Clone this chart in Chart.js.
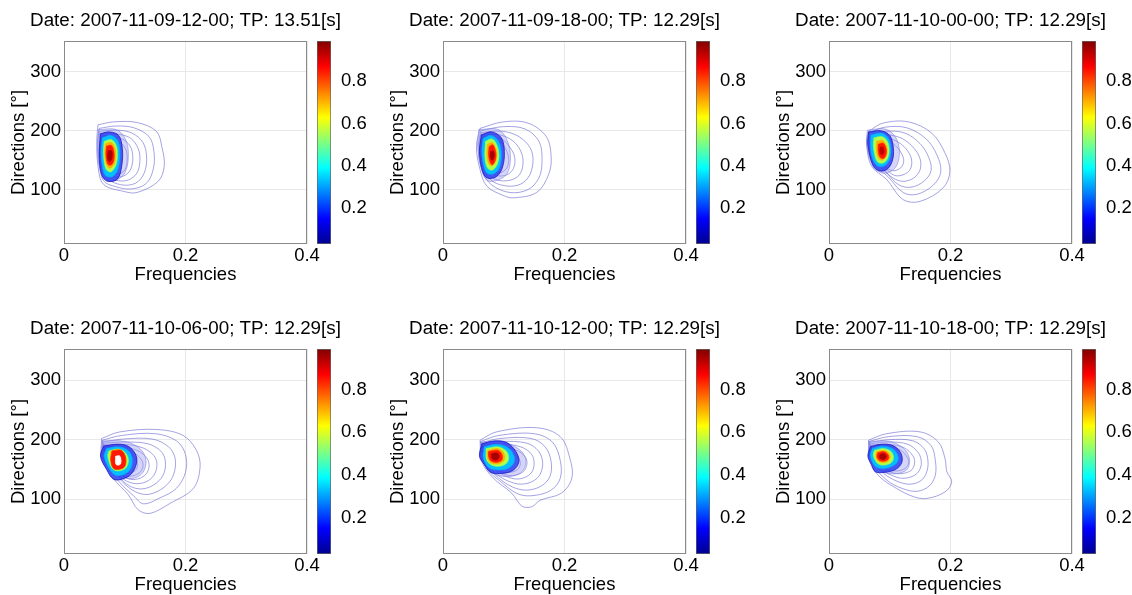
<!DOCTYPE html>
<html>
<head>
<meta charset="utf-8">
<script src="https://cdn.jsdelivr.net/npm/chart.js@4.4.1/dist/chart.umd.min.js"></script>
<style>
  body { margin: 0; background: #fff; overflow: hidden; }
  canvas { position: absolute; }
</style>
</head>
<body>
<script>
// panel headers
const dates = ['2007-11-09-12-00', '2007-11-09-18-00', '2007-11-10-00-00',
               '2007-11-10-06-00', '2007-11-10-12-00', '2007-11-10-18-00'];
const peakPeriods = [13.51, 12.29, 12.29, 12.29, 12.29, 12.29];

const freqTicks = [0, 0.2, 0.4];
const dirTicks = [100, 200, 300];
const colourTicks = [0.2, 0.4, 0.6, 0.8];
const colourRange = [0.03, 0.99];

// contour rings: [freq, dir, freq, dir, ...]
// lines = low level contours (outer first), core = higher levels (halo first, peak last)
const linesA = [
  [.056,210, .081,215, .120,214, .152,199, .161,173, .165,140, .155,114, .120,95, .098,97, .065,109, .056,140, .054,185],
  [.058,204, .085,208, .115,205, .140,190, .148,165, .147,135, .135,110, .110,101, .085,105, .065,115, .058,145, .056,185],
  [.059,199, .088,201, .112,196, .130,180, .136,155, .132,128, .118,111, .095,108, .070,120, .060,150, .058,185],
  [.060,195, .090,194, .110,187, .122,170, .125,150, .120,128, .105,116, .085,116, .068,126, .060,155],
  [.061,192, .090,188, .106,178, .113,160, .110,135, .098,123, .080,122, .066,132, .061,160],
  [.062,190, .088,183, .101,170, .104,152, .100,133, .088,126, .072,128, .063,145]
];
const coreA = [
  [.057,202, .086,202, .101,186, .106,160, .101,130, .086,116, .068,116, .058,140, .055,175],
  [.060,195, .075,198, .090,192, .096,170, .095,140, .088,118, .072,114, .062,125, .058,160],
  [.063,188, .078,192, .089,182, .092,160, .089,135, .080,122, .068,124, .063,140, .061,165],
  [.066,182, .078,185, .086,175, .088,158, .085,140, .077,130, .069,135, .065,160],
  [.068,178, .078,180, .084,170, .085,155, .082,142, .075,136, .070,142, .067,160],
  [.070,174, .078,175, .082,165, .082,150, .078,142, .073,142, .070,150, .069,162],
  [.073,166, .078,166, .079,156, .076,148, .073,150, .072,158]
];

const linesB = [
  [.061,204, .099,215, .140,213, .170,190, .178,156, .174,126, .154,95, .116,86, .099,90, .072,106, .061,134, .055,173],
  [.062,200, .100,207, .135,203, .158,182, .163,150, .158,120, .140,100, .110,95, .080,108, .065,130, .058,170],
  [.063,197, .098,199, .125,190, .144,170, .148,145, .140,120, .122,107, .095,108, .075,120, .063,150, .060,180],
  [.064,194, .097,192, .118,180, .130,160, .131,138, .123,122, .105,115, .085,118, .068,135, .062,170],
  [.065,192, .096,186, .110,172, .118,155, .116,136, .105,125, .088,124, .072,135, .064,165],
  [.066,190, .094,181, .105,165, .108,148, .103,134, .090,128, .075,136, .066,160]
];
const coreB = [
  [.059,202, .091,202, .106,183, .111,155, .106,128, .090,116, .072,116, .062,140, .057,175],
  [.063,193, .080,198, .096,188, .101,165, .098,138, .088,122, .072,120, .064,135, .060,165],
  [.066,187, .080,192, .092,181, .096,160, .093,138, .084,127, .072,128, .066,145, .064,168],
  [.070,182, .081,186, .089,175, .092,158, .089,142, .081,133, .073,137, .069,155],
  [.073,177, .081,180, .087,170, .089,158, .086,146, .080,140, .075,144, .072,160],
  [.076,173, .082,176, .087,162, .086,150, .081,142, .077,148, .075,160],
  [.079,165, .083,165, .084,156, .081,150, .078,156]
];

const linesC = [
  [.065,199, .089,213, .131,215, .169,196, .191,162, .199,131, .188,103, .150,80, .122,83, .095,117, .070,140, .062,179],
  [.065,196, .092,206, .128,205, .160,186, .178,158, .184,130, .172,108, .145,92, .122,95, .097,122, .073,145, .064,180],
  [.066,193, .093,199, .125,196, .150,178, .164,155, .168,132, .156,114, .135,104, .115,108, .095,128, .075,150, .065,180],
  [.067,190, .094,193, .120,187, .140,170, .150,152, .150,134, .140,120, .122,114, .105,120, .090,135, .068,172],
  [.068,188, .094,188, .115,180, .130,165, .136,150, .134,135, .124,126, .108,124, .092,138, .070,170],
  [.069,187, .094,184, .110,174, .120,160, .123,148, .118,137, .105,132, .092,140, .072,168]
];
const coreC = [
  [.063,201, .092,203, .109,190, .116,165, .111,140, .098,129, .085,129, .072,140, .062,175],
  [.065,198, .085,200, .100,192, .106,170, .104,148, .095,134, .082,132, .072,142, .064,175],
  [.069,193, .086,196, .098,187, .102,168, .099,150, .091,140, .080,140, .072,152, .068,175],
  [.074,188, .087,190, .096,182, .099,166, .096,152, .089,145, .080,147, .075,160, .073,178],
  [.078,182, .088,184, .094,176, .096,164, .093,154, .087,150, .081,154, .078,168],
  [.081,177, .089,179, .094,170, .094,160, .090,153, .084,155, .081,165],
  [.085,172, .089,172, .090,163, .087,159, .084,165]
];

const linesD = [
  [.062,202, .092,213, .153,217, .196,207, .218,182, .224,154, .213,118, .175,93, .142,76, .122,82, .106,107, .081,135, .062,168],
  [.063,199, .095,207, .150,210, .185,198, .200,175, .200,145, .185,118, .158,102, .131,92, .115,105, .090,130, .065,165],
  [.064,196, .098,201, .145,201, .172,188, .183,168, .180,140, .165,120, .140,108, .118,112, .095,130, .067,165],
  [.065,194, .100,196, .138,193, .160,180, .167,162, .163,140, .148,124, .128,117, .108,122, .090,138, .068,167],
  [.066,192, .100,192, .130,186, .148,173, .153,158, .148,140, .135,129, .117,126, .100,132, .085,145, .069,168],
  [.067,190, .100,188, .124,180, .137,168, .140,155, .135,142, .122,134, .106,134, .090,145, .070,170],
  [.068,189, .100,185, .118,176, .128,165, .130,155, .125,145, .113,139, .098,139, .085,148, .071,170],
  [.069,188, .100,183, .113,174, .120,163, .121,155, .116,147, .105,143, .092,146, .073,170]
];
const coreD = [
  [.063,198, .100,197, .125,185, .135,165, .130,145, .115,135, .095,137, .080,145, .063,172],
  [.065,189, .085,192, .103,190, .115,180, .120,165, .113,145, .100,135, .082,133, .070,150, .060,172],
  [.070,185, .088,188, .104,183, .112,170, .110,152, .100,142, .085,140, .074,152, .066,172],
  [.074,181, .090,184, .101,178, .106,166, .103,154, .094,148, .082,149, .075,160, .072,174],
  [.077,181, .091,183, .099,175, .102,165, .099,155, .091,151, .082,153, .077,165],
  [.079,181, .094,182, .101,172, .101,157, .095,151, .082,151, .077,165],
  [.085,172, .092,172, .093,159, .086,158]
];

const linesE = [
  [.061,199, .088,213, .154,220, .193,205, .209,168, .212,135, .195,110, .160,98, .146,87, .130,88, .113,110, .083,135, .064,163],
  [.062,197, .092,207, .150,210, .180,196, .193,165, .193,135, .178,115, .150,106, .125,108, .100,125, .070,155],
  [.063,195, .095,202, .145,202, .168,188, .178,163, .176,138, .162,122, .138,115, .115,120, .092,135, .068,162],
  [.064,193, .097,197, .138,194, .157,181, .164,162, .160,142, .148,130, .128,125, .108,130, .088,142, .068,165],
  [.065,191, .098,193, .130,187, .146,175, .150,160, .146,145, .134,136, .118,134, .100,140, .085,150, .068,168],
  [.066,189, .098,189, .123,181, .136,170, .138,158, .133,147, .122,141, .107,140, .092,148, .070,170],
  [.067,188, .098,186, .116,177, .126,166, .127,157, .122,149, .111,145, .098,146, .072,170]
];
const coreE = [
  [.062,196, .098,196, .125,184, .136,168, .133,150, .120,140, .100,138, .080,145, .063,168],
  [.064,193, .085,198, .105,195, .120,180, .125,163, .115,148, .095,143, .078,145, .068,158, .060,172],
  [.068,188, .088,192, .106,187, .116,175, .117,162, .108,152, .090,149, .075,153, .066,170],
  [.071,185, .090,188, .103,182, .108,172, .106,162, .097,156, .083,156, .072,165],
  [.073,182, .090,185, .099,179, .102,170, .099,163, .090,159, .078,161, .073,170],
  [.075,180, .090,182, .097,175, .097,166, .090,162, .079,164, .075,172],
  [.080,176, .090,177, .092,170, .088,166, .081,168]
];

const linesF = [
  [.065,199, .095,210, .150,213, .180,196, .191,168, .194,146, .202,129, .191,112, .161,101, .139,104, .111,118, .084,137, .067,163],
  [.066,197, .098,205, .145,205, .168,190, .175,165, .175,140, .165,122, .145,113, .120,118, .095,132, .070,162],
  [.067,195, .100,200, .138,198, .157,184, .163,163, .160,143, .150,130, .132,125, .112,130, .090,143, .071,165],
  [.068,193, .100,196, .130,192, .147,178, .152,162, .148,147, .137,138, .120,135, .103,140, .086,150, .072,167],
  [.069,191, .100,192, .124,186, .138,173, .141,162, .137,150, .126,144, .111,143, .096,148, .074,168],
  [.070,190, .100,189, .118,182, .129,170, .131,161, .127,153, .117,148, .104,148, .090,154, .075,170]
];
const coreF = [
  [.066,197, .100,197, .122,186, .132,170, .130,152, .118,144, .098,143, .082,150, .067,170],
  [.068,188, .085,192, .105,190, .118,178, .120,162, .110,150, .092,145, .076,146, .070,158, .064,172],
  [.071,185, .087,189, .104,185, .113,174, .113,163, .104,155, .088,151, .076,155, .068,172],
  [.075,182, .089,185, .101,181, .106,172, .104,163, .096,158, .083,158, .075,167, .073,176],
  [.078,180, .090,182, .098,178, .101,171, .098,164, .090,161, .081,163, .077,172],
  [.080,178, .090,180, .097,175, .098,168, .092,164, .083,165, .079,171],
  [.084,175, .091,176, .094,171, .090,167, .084,169]
];

const panelLines = [linesA, linesB, linesC, linesD, linesE, linesF];
const panelCores = [coreA, coreB, coreC, coreD, coreE, coreF];

// ---- styling / layout ----
const FONT = "'Liberation Sans', Arial, sans-serif";
const lineColour = 'rgba(90,90,205,0.55)';
const coreColours = ['rgba(155,155,240,0.42)', 'rgba(35,55,240,0.8)', 'rgba(0,200,255,0.92)',
                     '#b0ff4c', '#ffae00', '#ff1800', '#a80000'];
const coreBorders = ['rgba(120,120,220,0.5)', 'rgba(20,20,190,0.75)', 'rgba(0,170,255,0.6)',
                     'rgba(150,255,80,0.6)', 'rgba(255,180,0,0.6)', 'rgba(255,40,0,0.7)', 'rgba(170,0,0,0.7)'];
const peakColours = ['#a80000', '#a80000', '#c00000', '#ffffff', '#a80000', '#a80000'];
const colLeft = [64, 443, 829];
const rowTop = [41, 349];
const rowHeight = [203, 205];
const PLOT_W = 243;

function ring(flat) {
  const pts = [];
  for (let i = 0; i < flat.length; i += 2) pts.push({x: flat[i], y: flat[i + 1]});
  pts.push({x: flat[0], y: flat[1]});
  return pts;
}

function jet(ctx, bottom, top) {
  const g = ctx.createLinearGradient(0, bottom, 0, top);
  g.addColorStop(0, '#00008f');
  g.addColorStop(0.125, '#0000ff');
  g.addColorStop(0.375, '#00ffff');
  g.addColorStop(0.625, '#ffff00');
  g.addColorStop(0.875, '#ff0000');
  g.addColorStop(1, '#800000');
  return g;
}

const boxPlugin = {
  id: 'box',
  afterDatasetsDraw(chart) {
    const {ctx, chartArea: a} = chart;
    ctx.save();
    ctx.strokeStyle = '#8a8a8a';
    ctx.lineWidth = 1;
    ctx.strokeRect(Math.round(a.left) + 0.5, Math.round(a.top) + 0.5,
                   Math.round(a.right - a.left) - 1, Math.round(a.bottom - a.top) - 1);
    ctx.restore();
  }
};

const titlePlugin = {
  id: 'panelTitle',
  afterDraw(chart, args, opts) {
    const {ctx, chartArea: a} = chart;
    ctx.save();
    ctx.font = '18.8px ' + FONT;
    ctx.fillStyle = '#000';
    ctx.textAlign = 'center';
    ctx.textBaseline = 'alphabetic';
    ctx.fillText(opts.text, (a.left + a.right) / 2, a.top - 15);
    ctx.restore();
  }
};

function addCanvas(left, top, w, h) {
  const c = document.createElement('canvas');
  c.width = w; c.height = h;
  c.style.left = left + 'px'; c.style.top = top + 'px';
  c.style.width = w + 'px'; c.style.height = h + 'px';
  document.body.appendChild(c);
  return c;
}

for (let p = 0; p < 6; p++) {
  const col = p % 3, row = Math.floor(p / 3);
  const x0 = colLeft[col], y0 = rowTop[row], ph = rowHeight[row];

  const datasets = [];
  panelLines[p].forEach(r => datasets.push({
    data: ring(r), showLine: true, borderColor: lineColour, borderWidth: 1,
    pointRadius: 0, tension: 0.35, fill: false
  }));
  panelCores[p].forEach((r, k) => {
    const peak = k === coreColours.length - 1;
    const c = peak ? peakColours[p] : coreColours[k];
    datasets.push({
      data: ring(r), showLine: true, backgroundColor: c,
      borderColor: peak ? c : coreBorders[k],
      borderWidth: 1, pointRadius: 0, tension: 0.35, fill: 'shape'
    });
  });
  datasets.reverse(); // first dataset is drawn on top

  const cv = addCanvas(x0 - 64, y0 - 41, 64 + PLOT_W + 64, 41 + ph + 48);
  new Chart(cv, {
    type: 'scatter',
    data: {datasets},
    options: {
      responsive: false, animation: false, devicePixelRatio: 1,
      layout: {padding: {top: 41, right: 64, left: 0, bottom: 0}},
      plugins: {
        legend: {display: false}, tooltip: {enabled: false},
        panelTitle: {text: 'Date: ' + dates[p] + '; TP: ' + peakPeriods[p].toFixed(2) + '[s]'}
      },
      scales: {
        x: {
          type: 'linear', min: 0, max: 0.4,
          afterBuildTicks: s => { s.ticks = freqTicks.map(v => ({value: v})); },
          afterFit: s => { s.height = 48; },
          ticks: {font: {family: FONT, size: 18.5}, color: '#000', padding: 1,
                  callback: v => v === 0 ? '0' : v.toFixed(1)},
          grid: {color: '#e8e8e8', drawTicks: false},
          border: {display: false},
          title: {display: true, text: 'Frequencies', color: '#000',
                  font: {family: FONT, size: 18.5}, padding: {top: 0, bottom: 6.4}}
        },
        y: {
          type: 'linear', min: 7.5, max: 352.5,
          afterBuildTicks: s => { s.ticks = dirTicks.map(v => ({value: v})); },
          afterFit: s => { s.width = 64; },
          ticks: {font: {family: FONT, size: 18.5}, color: '#000', padding: 3,
                  callback: v => String(v)},
          grid: {color: '#e8e8e8', drawTicks: false},
          border: {display: false},
          title: {display: true, text: 'Directions [°]', color: '#000',
                  font: {family: FONT, size: 18.5}, padding: {top: 7.5, bottom: 0}}
        }
      }
    },
    plugins: [boxPlugin, titlePlugin]
  });

  // colour bar
  const cb = addCanvas(x0 + 253 - 2, y0 - 41, 2 + 14 + 40, 41 + ph + 16);
  new Chart(cb, {
    type: 'bar',
    data: {
      labels: [''],
      datasets: [{
        data: [colourRange],
        backgroundColor: ctx => {
          const ch = ctx.chart, a = ch.chartArea;
          if (!a) return '#0000ff';
          return jet(ch.ctx, a.bottom, a.top);
        },
        borderColor: '#666', borderWidth: 1, borderSkipped: false,
        categoryPercentage: 1, barPercentage: 1
      }]
    },
    options: {
      responsive: false, animation: false, devicePixelRatio: 1,
      layout: {padding: {top: 41, left: 2, right: 0, bottom: 16}},
      plugins: {legend: {display: false}, tooltip: {enabled: false}},
      scales: {
        x: {display: false},
        y: {
          position: 'right', min: colourRange[0], max: colourRange[1],
          afterBuildTicks: s => { s.ticks = colourTicks.map(v => ({value: v})); },
          afterFit: s => { s.width = 40; },
          ticks: {font: {family: FONT, size: 18.5}, color: '#000', padding: 2,
                  callback: v => v.toFixed(1)},
          grid: {display: false},
          border: {display: false}
        }
      }
    }
  });
}
</script>
</body>
</html>
